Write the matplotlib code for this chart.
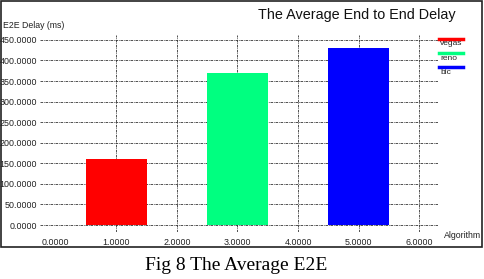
import matplotlib.pyplot as plt
from matplotlib.lines import Line2D
from matplotlib.patches import Rectangle

# data
algorithms = ['vegas', 'reno', 'bic']
positions = [1, 3, 5]
delays = [160, 370, 430]
colors = ['#ff0000', '#00ff80', '#0000ff']
yticks = [0, 50, 100, 150, 200, 250, 300, 350, 400, 450]
xticks = [0, 1, 2, 3, 4, 5, 6]

W, H = 484, 279
fig = plt.figure(figsize=(W / 100, H / 100), dpi=100)
plt.rcParams['font.family'] = ['Liberation Sans', 'DejaVu Sans']

# axes placed in pixel terms
left, right, top, bottom = 40, 438, 35, 232
ax = fig.add_axes([left / W, 1 - bottom / H, (right - left) / W, (bottom - top) / H])
ax.bar(positions, delays, width=1.0, color=colors, zorder=3)
ax.set_xlim(-0.26, 6.31)
ax.set_ylim(-17, 462)
ax.set_xticks(xticks)
ax.set_yticks(yticks)
ax.set_xticklabels([f"{v:.4f}" for v in xticks])
ax.set_yticklabels([f"{v:.4f}" for v in yticks])
ax.tick_params(length=0, labelsize=6.4, colors='#222222')
ax.tick_params(axis='x', pad=4)
ax.tick_params(axis='y', pad=2)
for s in ax.spines.values():
    s.set_visible(False)
ax.grid(True, color='#333333', linestyle=(0, (3, 1, 1, 1)), linewidth=0.6, zorder=1)
# no vertical grid line at 0
ax.xaxis.get_gridlines()[0].set_visible(False)

# texts
fig.text(3 / W, 1 - 25 / H, 'E2E Delay (ms)', fontsize=6.3, va='center', color='#222222')
fig.text(444 / W, 1 - 236 / H, 'Algorithm', fontsize=6.3, va='center', color='#222222')
fig.text(357 / W, 1 - 15 / H, 'The Average End to End Delay', fontsize=10.4,
         ha='center', va='center', color='#111111')

# legend keys drawn at the right
for i, (name, c) in enumerate(zip(algorithms, colors)):
    y = 39 + i * 14
    fig.add_artist(Line2D([439 / W, 463 / W], [1 - y / H, 1 - y / H], color=c, linewidth=2.5))
    fig.text(440 / W, 1 - (y + 5) / H, name, fontsize=6, va='center', color='#222222')

# chart frame
fig.add_artist(Rectangle((1 / W, 1 - 247 / H), 481 / W, 246 / H, fill=False,
                         edgecolor='#222222', linewidth=1.2, transform=fig.transFigure))

fig.text(236 / W, 1 - 265 / H, 'Fig 8 The Average E2E', fontsize=14,
         family='Liberation Serif', ha='center', va='center')

fig.savefig('out.png', dpi=100)
